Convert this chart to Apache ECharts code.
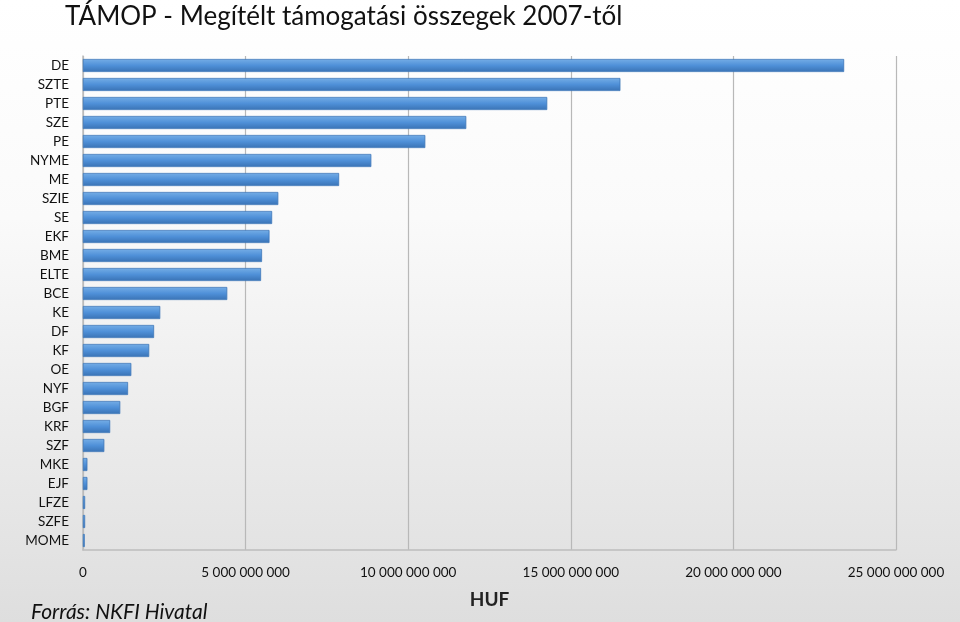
<!DOCTYPE html>
<html><head><meta charset="utf-8">
<script src="https://cdn.jsdelivr.net/npm/echarts@6/dist/echarts.min.js"></script>
<style>html,body{margin:0;padding:0;}#c{width:960px;height:622px;}</style>
</head><body><div id="c"></div>
<script>
const categories = ['DE','SZTE','PTE','SZE','PE','NYME','ME','SZIE','SE','EKF','BME','ELTE','BCE','KE','DF','KF','OE','NYF','BGF','KRF','SZF','MKE','EJF','LFZE','SZFE','MOME'];
const values = [23400000000,16520000000,14270000000,11780000000,10520000000,8860000000,7870000000,6000000000,5810000000,5730000000,5500000000,5470000000,4430000000,2370000000,2180000000,2030000000,1480000000,1380000000,1140000000,830000000,650000000,130000000,130000000,60000000,60000000,50000000];
const xTicks = [0,5000000000,10000000000,15000000000,20000000000,25000000000];
const FONT = 'Lato';
function fmt(v){return String(Math.round(v)).replace(/\B(?=(\d{3})+(?!\d))/g,' ');}
const chart = echarts.init(document.getElementById('c'));
chart.setOption({
  backgroundColor: new echarts.graphic.LinearGradient(0,0,0,1,[{offset:0,color:'#ffffff'},{offset:0.35,color:'#fafafa'},{offset:1,color:'#dedede'}]),
  textStyle:{fontFamily:FONT},
  title:[
    {text:'TÁMOP - Megítélt támogatási összegek 2007-től',left:60,top:-1,textStyle:{fontFamily:FONT,fontSize:26,fontWeight:'normal',color:'#111'}},
    {text:'Forrás: NKFI Hivatal',left:26,top:597,textStyle:{fontFamily:FONT,fontSize:21,fontStyle:'italic',fontWeight:'normal',color:'#111'}}
  ],
  grid:{left:83,right:64,top:56,bottom:72,containLabel:false},
  xAxis:{type:'value',min:xTicks[0],max:xTicks[xTicks.length-1],interval:xTicks[1]-xTicks[0],
    name:'HUF',nameLocation:'middle',nameGap:40,nameTextStyle:{fontFamily:FONT,fontSize:19,fontWeight:'bold',color:'#222'},
    axisLine:{show:true,lineStyle:{color:'#bdbdbd',width:1.5}},axisTick:{show:false},
    axisLabel:{margin:16,fontSize:13.5,color:'#111',fontFamily:FONT,formatter:fmt},
    splitLine:{show:true,lineStyle:{color:'#b8b8b8',width:1.2}}},
  yAxis:{type:'category',data:categories,inverse:true,
    axisLine:{show:true,lineStyle:{color:'#bdbdbd',width:1.5}},axisTick:{show:false},
    axisLabel:{margin:14,fontSize:13.5,color:'#111',fontFamily:FONT}},
  series:[{type:'bar',data:values,barCategoryGap:'33%',
    itemStyle:{color:new echarts.graphic.LinearGradient(0,0,0,1,[{offset:0,color:'#74ade6'},{offset:0.5,color:'#4f90d8'},{offset:1,color:'#3a73b5'}]),borderColor:'#3f78ba',borderWidth:0.5}}]
});
</script></body></html>
